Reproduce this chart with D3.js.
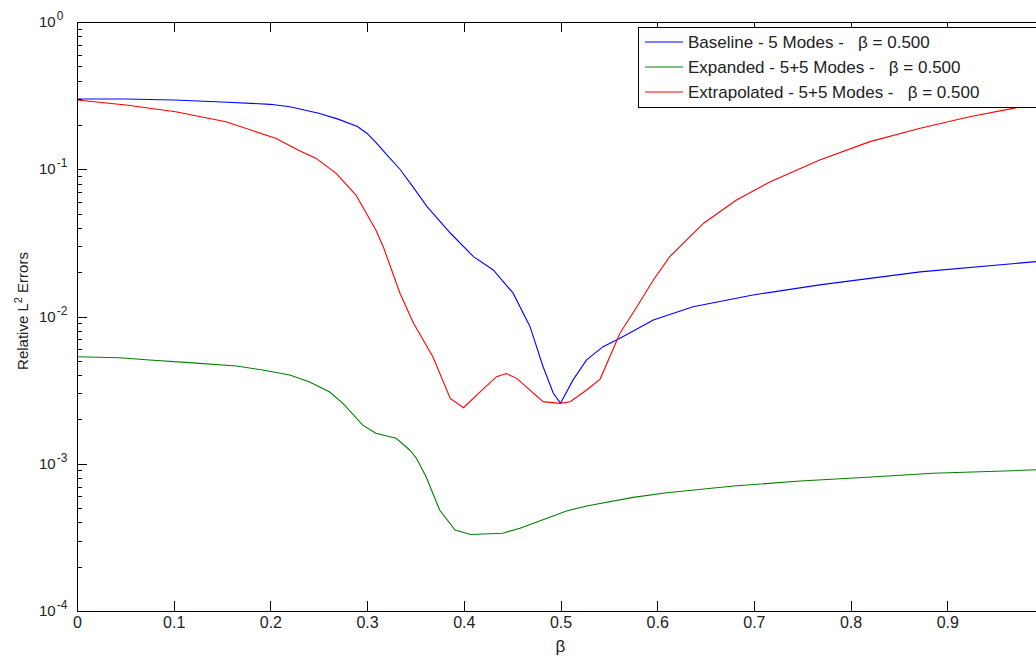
<!DOCTYPE html>
<html>
<head>
<meta charset="utf-8">
<script src="https://cdn.jsdelivr.net/npm/d3@7"></script>
<style>
  html, body { margin: 0; padding: 0; background: #fff; }
  svg { display: block; font-family: "Liberation Sans", Arial, sans-serif; }
</style>
</head>
<body>
<svg id="chart" width="1036" height="658"></svg>
<script>
// ---- Data ----
const baselineBeta = [0, 0.05, 0.1, 0.15, 0.2, 0.22, 0.25, 0.27, 0.29, 0.3, 0.31, 0.32, 0.334, 0.348, 0.362, 0.386, 0.41, 0.4305, 0.451, 0.4685, 0.482, 0.4926, 0.5, 0.513, 0.527, 0.544, 0.5615, 0.596, 0.637, 0.699, 0.768, 0.872, 0.992, 1.0];
const baselineErr  = [0.300, 0.300, 0.295, 0.286, 0.276, 0.266, 0.240, 0.219, 0.195, 0.175, 0.150, 0.126, 0.100, 0.075, 0.0557, 0.0369, 0.0255, 0.0207, 0.0144, 0.00853, 0.00456, 0.00301, 0.00258, 0.00371, 0.00507, 0.00624, 0.00711, 0.00946, 0.01166, 0.0140, 0.0164, 0.0201, 0.0236, 0.0239];

const expandedBeta = [0, 0.044, 0.075, 0.116, 0.165, 0.192, 0.22, 0.24, 0.261, 0.275, 0.2955, 0.309, 0.33, 0.344, 0.351, 0.361, 0.375, 0.391, 0.407, 0.44, 0.458, 0.479, 0.507, 0.527, 0.575, 0.61, 0.679, 0.748, 0.817, 0.885, 0.967, 1.0];
const expandedErr  = [0.00533, 0.00525, 0.00507, 0.00486, 0.00461, 0.00433, 0.00401, 0.00361, 0.00308, 0.00257, 0.00183, 0.00161, 0.00149, 0.00124, 0.00109, 0.000817, 0.000485, 0.000355, 0.000331, 0.000337, 0.000365, 0.00041, 0.00048, 0.000516, 0.000591, 0.000636, 0.000706, 0.000764, 0.000809, 0.000861, 0.000897, 0.000915];

const extrapBeta = [0, 0.0507, 0.102, 0.154, 0.206, 0.2306, 0.247, 0.268, 0.2885, 0.309, 0.3167, 0.334, 0.348, 0.368, 0.386, 0.3997, 0.4168, 0.434, 0.444, 0.4547, 0.482, 0.4995, 0.51, 0.527, 0.541, 0.5615, 0.579, 0.596, 0.613, 0.648, 0.682, 0.717, 0.768, 0.82, 0.872, 0.923, 0.968, 1.0];
const extrapErr  = [0.295, 0.273, 0.246, 0.210, 0.162, 0.133, 0.119, 0.0938, 0.0668, 0.0387, 0.0298, 0.0144, 0.0090, 0.00533, 0.00278, 0.0024, 0.00308, 0.0039, 0.0041, 0.0038, 0.00264, 0.00257, 0.00264, 0.00317, 0.00376, 0.00769, 0.01166, 0.0177, 0.0255, 0.043, 0.0618, 0.0823, 0.1156, 0.154, 0.19, 0.227, 0.259, 0.285];

const seriesNames  = ["Baseline - 5 Modes -   \u03B2 = 0.500", "Expanded - 5+5 Modes -   \u03B2 = 0.500", "Extrapolated - 5+5 Modes -   \u03B2 = 0.500"];
const seriesColors = ["#0000ff", "#008000", "#ff0000"];

const xTickValues = [0, 0.1, 0.2, 0.3, 0.4, 0.5, 0.6, 0.7, 0.8, 0.9];
const xTickLabels = ["0", "0.1", "0.2", "0.3", "0.4", "0.5", "0.6", "0.7", "0.8", "0.9"];
const yExponents  = [0, -1, -2, -3, -4];
const xLabel = "\u03B2";

// ---- Layout ----
const svg = d3.select("#chart");
const L = 77, T = 22, R = 1044, B = 611;
const x = d3.scaleLinear().domain([0, 1]).range([L, R]);
const y = d3.scaleLog().domain([1e-4, 1]).range([B, T]);

const axisColor = "#000";

// Lines
const series = [
  baselineBeta.map((b, i) => [b, baselineErr[i]]),
  expandedBeta.map((b, i) => [b, expandedErr[i]]),
  extrapBeta.map((b, i) => [b, extrapErr[i]])
];
const line = d3.line().x(d => x(d[0])).y(d => y(d[1]));
svg.append("defs").append("clipPath").attr("id", "clip")
  .append("rect").attr("x", L).attr("y", T).attr("width", R - L).attr("height", B - T);
const plot = svg.append("g").attr("clip-path", "url(#clip)");
series.forEach((s, i) => {
  plot.append("path").datum(s).attr("d", line)
    .attr("fill", "none").attr("stroke", seriesColors[i]).attr("stroke-width", 1.1);
});

// Bottom axis
const xAxis = d3.axisBottom(x).tickValues(xTickValues)
  .tickFormat((d, i) => xTickLabels[i]).tickSizeInner(-10).tickSizeOuter(0).tickPadding(6);
const gx = svg.append("g").attr("transform", `translate(0,${B})`).call(xAxis);
gx.selectAll("text").attr("font-size", 16).attr("fill", "#222").attr("font-family", "Liberation Sans, Arial, sans-serif");

// Top axis (ticks only)
const xAxisTop = d3.axisTop(x).tickValues(xTickValues).tickFormat("").tickSizeInner(-10).tickSizeOuter(0);
svg.append("g").attr("transform", `translate(0,${T})`).call(xAxisTop);

// Left axis: majors
const majors = yExponents.map(e => Math.pow(10, e));
const yAxis = d3.axisLeft(y).tickValues(majors).tickFormat("").tickSizeInner(-10).tickSizeOuter(0);
svg.append("g").attr("transform", `translate(${L},0)`).call(yAxis);
// minors
const minors = [];
for (let e = -4; e < 0; e++) for (let m = 2; m <= 9; m++) minors.push(m * Math.pow(10, e));
const yMinor = d3.axisLeft(y).tickValues(minors).tickFormat("").tickSizeInner(-5).tickSizeOuter(0);
const gm = svg.append("g").attr("transform", `translate(${L},0)`).call(yMinor);
gm.select(".domain").remove();

svg.selectAll(".domain, .tick line").attr("stroke", axisColor).attr("shape-rendering", "crispEdges");

// y tick labels with superscripts
const ylab = svg.append("g").attr("font-size", 15).attr("fill", "#222");
yExponents.forEach(e => {
  const t = ylab.append("text").attr("x", 39).attr("y", y(Math.pow(10, e)) + 5);
  t.append("tspan").text("10");
  t.append("tspan").attr("dy", -7).attr("dx", 1).attr("font-size", 12).text(String(e));
});

// Axis labels
svg.append("text").attr("x", x(0.5)).attr("y", 652).attr("text-anchor", "middle")
  .attr("font-size", 17).attr("fill", "#222").text(xLabel);
const yl = svg.append("text").attr("transform", `translate(28,311) rotate(-90)`)
  .attr("text-anchor", "middle").attr("font-size", 15).attr("fill", "#222");
yl.append("tspan").text("Relative L");
yl.append("tspan").attr("dy", -6).attr("font-size", 11).text("2");
yl.append("tspan").attr("dy", 6).text(" Errors");

// Legend
const lg = svg.append("g");
lg.append("rect").attr("x", 638.5).attr("y", 27.5).attr("width", 420).attr("height", 80)
  .attr("fill", "#fff").attr("stroke", "#000").attr("stroke-width", 1);
const rowY = [42, 67, 92];
seriesNames.forEach((n, i) => {
  lg.append("line").attr("x1", 645).attr("x2", 683).attr("y1", rowY[i]).attr("y2", rowY[i])
    .attr("stroke", seriesColors[i]).attr("stroke-width", 1.1);
  lg.append("text").attr("x", 688).attr("y", rowY[i] + 6.3).attr("font-size", 17).attr("fill", "#222")
    .attr("xml:space", "preserve").style("white-space", "pre").text(n);
});
</script>
</body>
</html>
